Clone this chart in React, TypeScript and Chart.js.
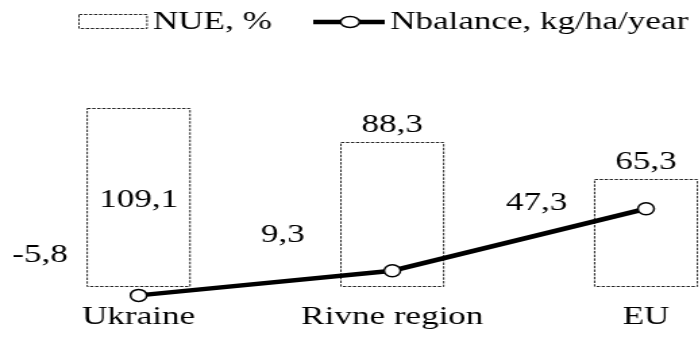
import React, { useEffect, useRef } from "react";
import { Chart, registerables } from "chart.js";

Chart.register(...registerables);

// ---- data ----
const categories = ["Ukraine", "Rivne region", "EU"];
const nueValues = [109.1, 88.3, 65.3];
const nbalanceValues = [-5.8, 9.3, 47.3];
const legendLabels = ["NUE, %", "Nbalance, kg/ha/year"];

// ---- style ----
const STRETCH = 1.35; // the reference is horizontally stretched
const FONT = '"Liberation Serif"';
const FONT_SIZE = 26;
const INK = "#000";
const DASH_INK = "#262626";
// label offsets (logical px) for the line values, relative to each point
const lineLabelOffsets = [
  [-73, -33],
  [-81, -29],
  [-81, 1],
];

const fmt = (v: number) => v.toFixed(1).replace(".", ",");

const decorPlugin = {
  id: "decor",
  beforeDatasetsDraw(chart: any) {
    const ctx = chart.ctx as CanvasRenderingContext2D;
    const meta = chart.getDatasetMeta(0);
    ctx.save();
    ctx.strokeStyle = DASH_INK;
    ctx.lineWidth = 1;
    ctx.setLineDash([2.5, 1.2]);
    meta.data.forEach((bar: any) => {
      const { x, y, base, width } = bar.getProps(["x", "y", "base", "width"], true);
      const l = x - width / 2;
      ctx.strokeRect(l, Math.round(y) + 0.5, width, Math.round(base) - Math.round(y));
    });
    ctx.restore();
  },
  afterDatasetsDraw(chart: any) {
    const ctx = chart.ctx as CanvasRenderingContext2D;
    ctx.save();
    ctx.fillStyle = INK;
    ctx.font = `${FONT_SIZE}px ${FONT}`;
    ctx.textAlign = "center";
    ctx.textBaseline = "alphabetic";
    const barMeta = chart.getDatasetMeta(0);
    barMeta.data.forEach((bar: any, i: number) => {
      const { x, y, base } = bar.getProps(["x", "y", "base"], true);
      const txt = fmt(nueValues[i]);
      if (i === 0) {
        ctx.fillText(txt, x, (y + base) / 2 + 10);
      } else {
        ctx.fillText(txt, x, y - 10);
      }
    });
    const lineMeta = chart.getDatasetMeta(1);
    lineMeta.data.forEach((pt: any, i: number) => {
      const { x, y } = pt.getProps(["x", "y"], true);
      const [dx, dy] = lineLabelOffsets[i];
      ctx.fillText(fmt(nbalanceValues[i]), x + dx, y + dy);
    });
    ctx.restore();
  },
  afterDraw(chart: any) {
    const ctx = chart.ctx as CanvasRenderingContext2D;
    ctx.save();
    // bar legend item
    ctx.strokeStyle = DASH_INK;
    ctx.lineWidth = 1;
    ctx.setLineDash([2.5, 1.2]);
    ctx.strokeRect(58.5, 14.5, 50.4, 14);
    ctx.setLineDash([]);
    ctx.fillStyle = INK;
    ctx.font = `${FONT_SIZE}px ${FONT}`;
    ctx.textAlign = "left";
    ctx.textBaseline = "alphabetic";
    ctx.fillText(legendLabels[0], 113.3, 29);
    // line legend item
    ctx.strokeStyle = INK;
    ctx.lineWidth = 4.5;
    ctx.beginPath();
    ctx.moveTo(232, 22);
    ctx.lineTo(285, 22);
    ctx.stroke();
    ctx.beginPath();
    ctx.ellipse(259.3, 22, 7, 5.5, 0, 0, Math.PI * 2);
    ctx.fillStyle = "#fff";
    ctx.fill();
    ctx.lineWidth = 1.5;
    ctx.stroke();
    ctx.fillStyle = INK;
    ctx.fillText(legendLabels[1], 288.9, 29);
    ctx.restore();
  },
};

export default function App() {
  const ref = useRef<HTMLCanvasElement>(null);

  useEffect(() => {
    if (!ref.current) return;
    const chart = new Chart(ref.current, {
      type: "bar",
      data: {
        labels: categories,
        datasets: [
          {
            type: "bar",
            label: legendLabels[0],
            data: nueValues,
            backgroundColor: "rgba(0,0,0,0)",
            borderWidth: 0,
            barPercentage: 0.405,
            categoryPercentage: 1,
            order: 2,
          },
          {
            type: "line",
            label: legendLabels[1],
            data: nbalanceValues,
            borderColor: INK,
            borderWidth: 4.5,
            tension: 0,
            pointRadius: 6,
            pointBackgroundColor: "#fff",
            pointBorderColor: INK,
            pointBorderWidth: 1.5,
            clip: false as any,
            order: 1,
          } as any,
        ],
      },
      options: {
        animation: false,
        responsive: true,
        maintainAspectRatio: false,
        devicePixelRatio: 1,
        layout: { padding: { top: 50, left: 8.7, right: 5.8, bottom: 0 } },
        plugins: {
          legend: { display: false },
          tooltip: { enabled: false },
        },
        scales: {
          x: {
            offset: true,
            grid: { display: false, drawTicks: false },
            border: { display: false },
            ticks: {
              color: INK,
              padding: 4,
              font: { family: FONT, size: FONT_SIZE },
              maxRotation: 0,
              autoSkip: false,
            },
            afterFit: (scale: any) => {
              scale.height = 39;
            },
          },
          y: {
            display: false,
            min: -7.4,
            max: 144.6,
          },
        },
      },
      plugins: [decorPlugin],
    });
    let alive = true;
    const fonts: any = (document as any).fonts;
    if (fonts && fonts.load) {
      Promise.all([
        fonts.load(`${FONT_SIZE}px ${FONT}`, "Ukraine 0123456789,"),
        fonts.ready,
      ])
        .catch(() => null)
        .then(() => {
          if (alive) chart.update();
        });
    }
    const t = setTimeout(() => alive && chart.update(), 300);
    return () => {
      alive = false;
      clearTimeout(t);
      chart.destroy();
    };
  }, []);

  return (
    <div
      style={{
        position: "fixed",
        left: 0,
        top: 0,
        width: 699,
        height: 337,
        overflow: "hidden",
        background: "#fff",
      }}
    >
      <span
        style={{
          position: "absolute",
          left: 0,
          top: 0,
          fontFamily: FONT,
          fontSize: FONT_SIZE,
          color: "transparent",
          pointerEvents: "none",
        }}
      >
        Ukraine 0123456789, NUE % Nbalance kg/ha/year Rivne region EU
      </span>
      <div
        style={{
          position: "relative",
          width: 580,
          height: 337,
          transform: `scaleX(${STRETCH})`,
          transformOrigin: "0 0",
        }}
      >
        <canvas ref={ref} />
      </div>
    </div>
  );
}
